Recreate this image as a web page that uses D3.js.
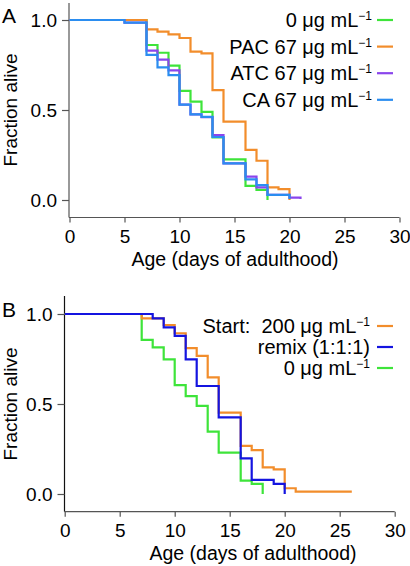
<!DOCTYPE html>
<html><head><meta charset="utf-8">
<script src="https://cdn.jsdelivr.net/npm/d3@7"></script>
<style>body{margin:0;background:#fff}svg text{font-family:"Liberation Sans",Arial,sans-serif;fill:#000}</style>
</head><body><svg id="c" width="410" height="566"></svg>
<script>
// ---- data ----
const xTicks = [0,5,10,15,20,25,30];
const yTicks = [0,0.5,1];
// Panel A
const ctrlA_t = [0,7,8,9,10,11,12,13,14,16,17,18];
const ctrlA_v = [1,0.861,0.818,0.746,0.606,0.546,0.49,0.348,0.226,0.078,0.056,0];
const pac_t = [0,7,8,9,10,11,12,13,14,16,17,18,19,20];
const pac_v = [1,0.948,0.935,0.92,0.90,0.824,0.815,0.61,0.435,0.278,0.218,0.07,0.06,0];
const atc_t = [0,5,7,8,9,10,11,12,13,14,16,17,18,20,21];
const atc_v = [1,0.985,0.83,0.78,0.72,0.53,0.476,0.46,0.36,0.204,0.13,0.07,0.028,0.013,0.005];
const ca_t = [0,5,7,8,9,10,11,12,13,14,16,17,18,20];
const ca_v = [1,0.985,0.806,0.737,0.694,0.53,0.476,0.462,0.35,0.204,0.115,0.083,0.028,0.005];
// Panel B
const start_t = [0,7,9,10,11,12,13,14,16,17,18,19,20,21,26];
const start_v = [1,0.976,0.939,0.893,0.81,0.767,0.648,0.452,0.267,0.244,0.148,0.137,0.032,0.013,0.007];
const remix_t = [0,8,9,10,11,12,14,16,17,19,20];
const remix_v = [1,0.976,0.926,0.878,0.748,0.6,0.426,0.198,0.078,0.056,0];
const ctrlB_t = [0,7,8,9,10,11,12,13,14,16,17,18];
const ctrlB_v = [1,0.856,0.815,0.748,0.605,0.544,0.49,0.346,0.23,0.074,0.056,0];

const legendA = ["0 μg mL", "PAC 67 μg mL", "ATC 67 μg mL", "CA 67 μg mL"];
const legendB = ["Start:\u00a0 200 μg mL", "remix (1:1:1)", "0 μg mL"];
const supB = [true,false,true];

const COL = {green:"#3ee43a", orange:"#f28d2b", purple:"#8a45ec", lblue:"#2b8df0", dblue:"#1414e0"};

const svg = d3.select("#c");
const zip = (t,v)=>t.map((d,i)=>[d,v[i]]);

function panel(o){
  const x = d3.scaleLinear().domain([0,30]).range([o.x0, o.x0+330]);
  const y = d3.scaleLinear().domain([0,1]).range([o.y0, o.y0-180]);
  const g = svg.append("g");
  g.append("line").attr("x1",o.ax).attr("x2",o.ax).attr("y1",o.spTop).attr("y2",o.xAxY)
    .attr("stroke",o.yCol).attr("stroke-width",1.2);
  g.append("line").attr("x1",o.ax).attr("x2",x(30)).attr("y1",o.xAxY).attr("y2",o.xAxY)
    .attr("stroke","#555").attr("stroke-width",1.2);
  const ya = g.append("g").attr("transform",`translate(${o.ax},0)`)
    .call(d3.axisLeft(y).tickValues(yTicks).tickFormat(d3.format(".1f")).tickSize(7).tickPadding(5));
  ya.select(".domain").remove();
  ya.selectAll("line").attr("stroke","#555").attr("stroke-width",1.2);
  ya.selectAll("text").attr("font-size",19).attr("font-family","Liberation Sans, Arial").attr("fill","#000");
  const xa = g.append("g").attr("transform",`translate(0,${o.xAxY})`)
    .call(d3.axisBottom(x).tickValues(xTicks).tickSize(5).tickPadding(7));
  xa.select(".domain").remove();
  xa.selectAll("line").attr("stroke","#555").attr("stroke-width",1.2);
  xa.selectAll("text").attr("font-size",19).attr("font-family","Liberation Sans, Arial").attr("fill","#000");
  g.append("text").attr("x",o.xtX).attr("y",o.xAxY+48).attr("text-anchor","middle")
    .attr("font-size",19.5).text("Age (days of adulthood)");
  g.append("text").attr("transform",`translate(17,${o.y0-90}) rotate(-90)`).attr("text-anchor","middle")
    .attr("font-size",19).text("Fraction alive");
  g.append("text").attr("x",2).attr("y",o.labY).attr("font-size",21).text(o.label);
  const line = d3.line().x(d=>x(d[0])).y(d=>y(d[1])).curve(d3.curveStepAfter);
  o.series.forEach(s=>{
    g.append("path").attr("d",line(zip(s.t,s.v))).attr("fill","none")
      .attr("stroke",s.c).attr("stroke-width",2.2).attr("stroke-linejoin","miter");
  });
  o.legend.forEach((l,i)=>{
    const yy = o.legY + i*o.legDy;
    const t = g.append("text").attr("x",o.legX).attr("y",yy).attr("text-anchor","end").attr("font-size",o.legFs);
    t.append("tspan").text(l.txt);
    if(l.sup) t.append("tspan").attr("font-size",12).attr("dy",-7).text("−1");
    g.append("line").attr("x1",377).attr("x2",393).attr("y1",yy-7).attr("y2",yy-7)
      .attr("stroke",l.c).attr("stroke-width",2.2);
  });
}

panel({x0:69.5, y0:200, ax:69, spTop:3, xAxY:217.5, yCol:"#555", xtX:235, labY:23, label:"A",
  series:[{t:ctrlA_t,v:ctrlA_v,c:COL.green},{t:pac_t,v:pac_v,c:COL.orange},
          {t:atc_t,v:atc_v,c:COL.purple},{t:ca_t,v:ca_v,c:COL.lblue}],
  legend:legendA.map((s,i)=>({txt:s,sup:true,c:[COL.green,COL.orange,COL.purple,COL.lblue][i]})),
  legX:372, legY:27, legDy:26.6, legFs:20});

panel({x0:64.7, y0:494, ax:64.5, spTop:296, xAxY:511.7, yCol:"#111", xtX:253, labY:317, label:"B",
  series:[{t:ctrlB_t,v:ctrlB_v,c:COL.green},{t:start_t,v:start_v,c:COL.orange},
          {t:remix_t,v:remix_v,c:COL.dblue}],
  legend:legendB.map((s,i)=>({txt:s,sup:supB[i],c:[COL.orange,COL.dblue,COL.green][i]})),
  legX:370, legY:333, legDy:21, legFs:20});
</script></body></html>
